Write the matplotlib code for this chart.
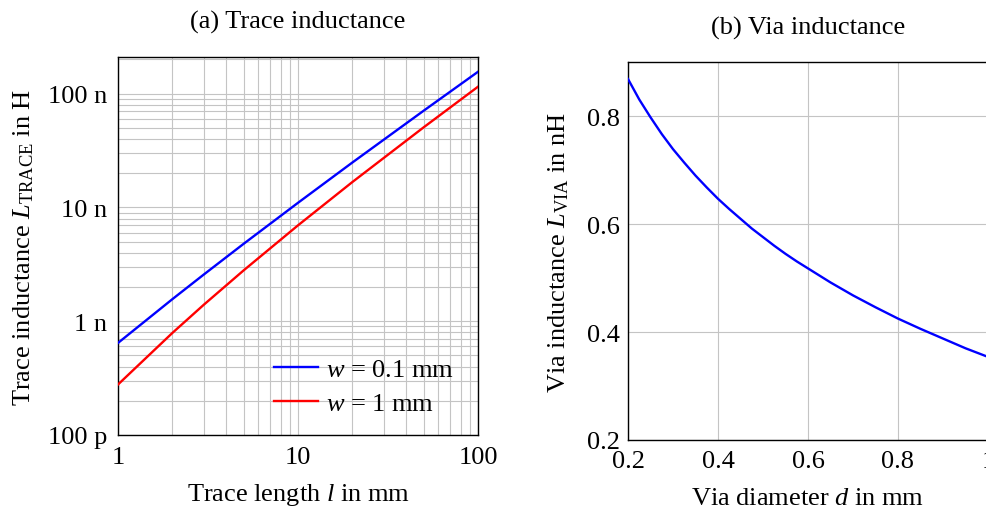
import numpy as np
import matplotlib.pyplot as plt
from matplotlib.ticker import FixedLocator, FixedFormatter, LogLocator, NullFormatter

plt.rcParams['font.family'] = ['Liberation Serif', 'DejaVu Serif']
plt.rcParams['mathtext.fontset'] = 'custom'
plt.rcParams['mathtext.rm'] = 'Liberation Serif'
plt.rcParams['mathtext.it'] = 'Liberation Serif:italic'
plt.rcParams['font.size'] = 19

# (a) trace inductance
trace_len = [1, 2, 3, 5, 10, 20, 50, 100]                      # mm
L_w01 = [0.645, 1.56, 2.58, 4.81, 11.0, 24.8, 71.1, 156.0]      # nH
L_w1 = [0.278, 0.787, 1.40, 2.81, 6.97, 16.7, 50.8, 115.3]      # nH

# (b) via inductance
via_d = [0.200, 0.225, 0.250, 0.275, 0.300, 0.325, 0.350, 0.375, 0.400,
         0.425, 0.450, 0.475, 0.500, 0.525, 0.550, 0.575, 0.600,
         0.650, 0.700, 0.750, 0.800, 0.850, 0.900, 0.950, 1.000]   # mm
L_via = [0.869, 0.831, 0.798, 0.767, 0.739, 0.714, 0.690, 0.668, 0.647,
         0.628, 0.610, 0.592, 0.576, 0.560, 0.545, 0.531, 0.518,
         0.492, 0.468, 0.446, 0.425, 0.406, 0.388, 0.370, 0.354]   # nH

yticks_a = [1e-10, 1e-9, 1e-8, 1e-7]
yticklabels_a = ['100 p', '1 n', '10 n', '100 n']

gridcol = '#c4c4c4'

fig = plt.figure(figsize=(9.87, 5.10), dpi=100)
ax1 = fig.add_axes([0.1196, 0.1451, 0.3647, 0.741])
ax2 = fig.add_axes([0.6363, 0.1353, 0.3647, 0.7406])

# ---- left: log-log
ax1.loglog(trace_len, np.array(L_w01) * 1e-9, color=(0, 0, 1), lw=1.7,
           label='$w$ = 0.1 mm', zorder=3)
ax1.loglog(trace_len, np.array(L_w1) * 1e-9, color=(1, 0, 0), lw=1.7,
           label='$w$ = 1 mm', zorder=3)
ax1.set_xlim(1, 100)
ax1.set_ylim(1e-10, 2.1e-7)
ax1.yaxis.set_major_locator(FixedLocator(yticks_a))
ax1.yaxis.set_major_formatter(FixedFormatter(yticklabels_a))
ax1.yaxis.set_minor_locator(LogLocator(base=10, subs=np.arange(2, 10)))
ax1.yaxis.set_minor_formatter(NullFormatter())
ax1.xaxis.set_major_locator(FixedLocator([1, 10, 100]))
ax1.xaxis.set_major_formatter(FixedFormatter(['1', '10', '100']))
ax1.xaxis.set_minor_locator(LogLocator(base=10, subs=np.arange(2, 10)))
ax1.xaxis.set_minor_formatter(NullFormatter())
ax1.grid(True, which='both', color=gridcol, lw=0.8)
ax1.set_axisbelow(True)
ax1.tick_params(axis='x', which='both', direction='in', length=0, pad=8)
ax1.tick_params(axis='y', which='both', direction='in', length=0, pad=8)
ax1.set_xlabel('Trace length $l$ in mm', labelpad=9)
ax1.set_ylabel('Trace inductance $L_\\mathrm{TRACE}$ in H', labelpad=8)
ax1.set_title('(a) Trace inductance', fontsize=19, pad=21)
ax1.legend(loc='lower right', bbox_to_anchor=(1.0, -0.011), frameon=False,
           handlelength=1.7, handletextpad=0.3, labelspacing=0.42,
           borderaxespad=0.5)

# ---- right: linear
ax2.plot(via_d, L_via, color=(0, 0, 1), lw=1.7, zorder=3)
ax2.set_xlim(0.2, 1.0)
ax2.set_ylim(0.2, 0.9)
ax2.set_xticks([0.2, 0.4, 0.6, 0.8, 1.0])
ax2.set_xticklabels(['0.2', '0.4', '0.6', '0.8', '1'])
ax2.set_yticks([0.2, 0.4, 0.6, 0.8])
ax2.set_yticklabels(['0.2', '0.4', '0.6', '0.8'])
ax2.grid(True, color=gridcol, lw=0.8)
ax2.set_axisbelow(True)
ax2.tick_params(axis='x', direction='in', length=0, pad=7)
ax2.tick_params(axis='y', direction='in', length=0, pad=6)
ax2.set_xlabel('Via diameter $d$ in mm', labelpad=11)
ax2.set_ylabel('Via inductance $L_\\mathrm{VIA}$ in nH', labelpad=11)
ax2.set_title('(b) Via inductance', fontsize=19, pad=21)

for ax in (ax1, ax2):
    for s in ax.spines.values():
        s.set_linewidth(1.0)
        s.set_color('black')

fig.savefig('out.png', dpi=100)
